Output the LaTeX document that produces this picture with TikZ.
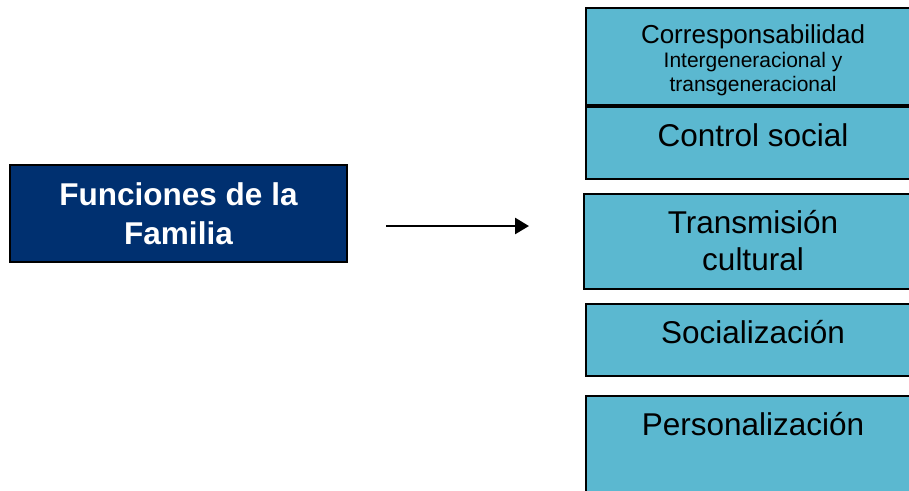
\documentclass[tikz,border=0pt]{standalone}
\usepackage{fontspec}
\setmainfont{Liberation Sans}
\usetikzlibrary{arrows.meta}

\definecolor{navy}{RGB}{0,48,112}
\definecolor{sky}{RGB}{91,184,208}

\tikzset{
	mainbox/.style={draw=black, line width=1.5pt, fill=navy, text=white,
		font=\fontsize{31.5}{38.5}\selectfont\bfseries, align=center,
		minimum width=337pt, minimum height=97pt, inner sep=0pt},
	funcbox/.style={draw=black, line width=2pt, fill=sky, anchor=north west,
		minimum width=336pt, inner sep=0pt},
	functext/.style={font=\fontsize{31.5}{37}\selectfont, align=center, anchor=base},
}

\begin{document}
\begin{tikzpicture}[x=1pt, y=-1pt]
		\clip (0,0) rectangle (909,490);

		\node[mainbox] (familia) at (178.5,213.5) {Funciones de la\\Familia};

		\coordinate (from) at (386,226);
		\coordinate (to) at (529,226);
		\draw[line width=2.6pt, -{Triangle[length=14pt,width=16pt]}] (from) -- (to);

		\node[funcbox, minimum height=97pt] (corresp) at (585,7) {};
		\node[funcbox, minimum height=72pt] (control) at (585,106) {};
		\node[funcbox, minimum height=95pt, minimum width=338pt] (transm) at (583,193) {};
		\node[funcbox, minimum height=72pt] (social) at (585,303) {};
		\node[funcbox, minimum height=110pt] (person) at (585,395) {};

		\node[functext, font=\fontsize{26}{30}\selectfont] at (753,43) {Corresponsabilidad};
		\node[functext, font=\fontsize{21}{23.5}\selectfont] at (753,91) {Intergeneracional y\\transgeneracional};
		\node[functext] at (753,146) {Control social};
		\node[functext] at (753,270) {Transmisión\\cultural};
		\node[functext] at (753,343) {Socialización};
		\node[functext] at (753,435) {Personalización};
	\end{tikzpicture}
\end{document}
